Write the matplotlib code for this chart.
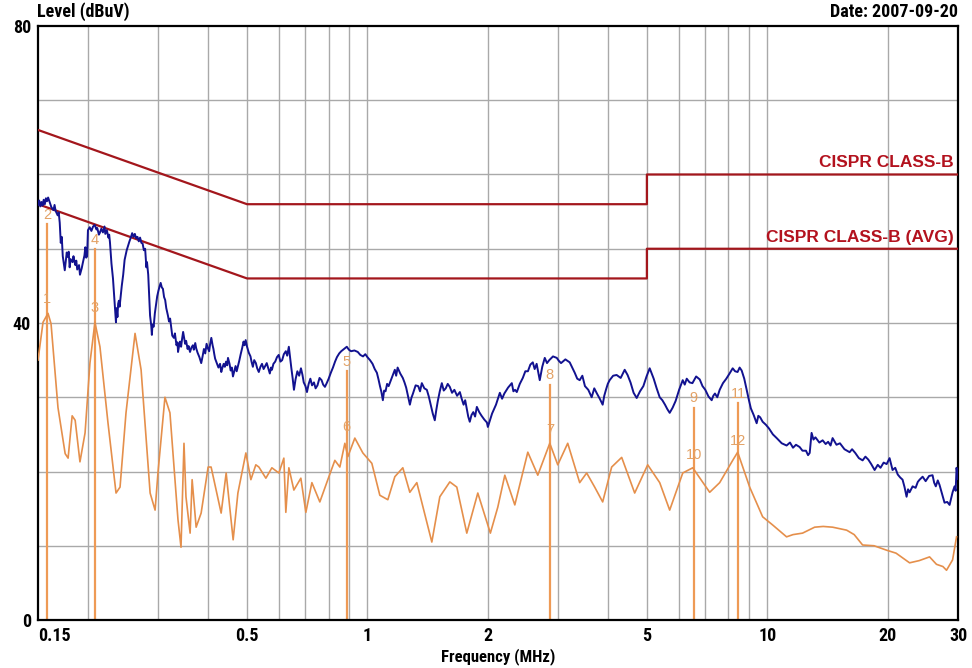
import matplotlib
matplotlib.use("Agg")
import matplotlib.pyplot as plt
from matplotlib import font_manager as fm

# ---------------- data ----------------
x_ticks = [0.15, 0.5, 1, 2, 5, 10, 20, 30]
x_tick_labels = ["0.15", "0.5", "1", "2", "5", "10", "20", "30"]
y_ticks = [0, 40, 80]
y_tick_labels = ["0", "40", "80"]

# CISPR 22 class B limits (dBuV)
limit_freq = [0.15, 0.5, 5, 5, 30]
limit_qp = [66, 56, 56, 60, 60]
limit_avg = [56, 46, 46, 50, 50]

# Peak scan: (MHz, dBuV)
peak_scan = [
    (0.150, 55.9), (0.151, 56.5), (0.152, 55.7), (0.153, 56.3), (0.154, 55.8),
    (0.155, 56.6), (0.156, 56.0), (0.157, 56.8), (0.158, 56.4), (0.159, 56.9),
    (0.161, 56.0), (0.162, 55.6), (0.164, 55.2), (0.165, 55.9), (0.166, 55.1),
    (0.168, 54.5), (0.169, 54.9), (0.170, 53.5), (0.171, 50.8), (0.172, 51.6),
    (0.173, 49.0), (0.174, 48.0), (0.175, 47.1), (0.176, 48.3), (0.177, 49.5),
    (0.178, 48.9), (0.179, 49.6), (0.180, 47.5), (0.181, 48.6), (0.183, 48.2),
    (0.184, 49.0), (0.185, 48.3), (0.186, 47.8), (0.187, 48.4), (0.188, 47.2),
    (0.190, 47.8), (0.191, 46.5), (0.193, 47.4), (0.194, 48.0), (0.196, 49.1),
    (0.197, 50.2), (0.198, 48.8), (0.199, 49.0), (0.200, 52.5), (0.202, 52.9),
    (0.204, 52.4), (0.206, 53.0), (0.208, 53.2), (0.210, 52.6), (0.211, 52.8),
    (0.213, 51.9), (0.214, 52.1), (0.216, 52.7), (0.218, 52.2), (0.220, 53.0),
    (0.221, 52.0), (0.223, 52.5), (0.225, 51.5), (0.226, 51.9), (0.227, 50.9),
    (0.229, 48.0), (0.231, 46.0), (0.232, 44.5), (0.234, 41.5), (0.235, 40.1),
    (0.236, 42.0), (0.237, 40.8), (0.238, 42.6), (0.239, 43.0), (0.240, 42.2),
    (0.241, 43.1), (0.243, 45.0), (0.245, 46.5), (0.247, 48.5), (0.250, 49.8),
    (0.252, 50.4), (0.254, 51.0), (0.256, 51.5), (0.258, 52.1), (0.260, 51.6),
    (0.262, 52.0), (0.264, 51.4), (0.266, 51.6), (0.268, 51.0), (0.270, 51.5),
    (0.272, 50.8), (0.274, 50.7), (0.276, 49.8), (0.278, 50.0), (0.280, 47.5),
    (0.281, 48.2), (0.283, 46.5), (0.285, 43.0), (0.286, 41.0), (0.288, 39.6),
    (0.289, 38.4), (0.290, 39.8), (0.292, 39.5), (0.294, 41.3), (0.296, 42.5),
    (0.298, 43.6), (0.300, 44.3), (0.302, 44.9), (0.304, 45.4), (0.306, 44.8),
    (0.308, 44.6), (0.310, 43.5), (0.312, 43.1), (0.314, 42.0), (0.317, 41.0),
    (0.319, 40.2), (0.321, 40.6), (0.323, 39.5), (0.325, 38.3), (0.328, 38.0),
    (0.330, 38.6), (0.333, 37.0), (0.335, 37.4), (0.336, 36.1), (0.338, 36.9),
    (0.340, 37.5), (0.342, 36.8), (0.344, 37.9), (0.346, 38.8), (0.348, 38.0),
    (0.350, 37.2), (0.352, 37.6), (0.355, 36.5), (0.357, 36.9), (0.360, 36.1),
    (0.363, 36.7), (0.366, 37.0), (0.368, 36.4), (0.371, 37.3), (0.373, 36.6),
    (0.376, 36.0), (0.380, 35.4), (0.384, 34.6), (0.387, 35.5), (0.390, 36.5),
    (0.393, 35.9), (0.396, 37.2), (0.399, 36.6), (0.402, 36.2), (0.404, 37.1),
    (0.407, 38.0), (0.410, 37.0), (0.412, 36.5), (0.414, 35.8), (0.416, 35.2),
    (0.420, 34.6), (0.424, 34.0), (0.428, 34.5), (0.431, 33.4), (0.434, 34.0),
    (0.437, 34.5), (0.440, 34.1), (0.443, 34.8), (0.446, 34.3), (0.448, 35.3),
    (0.452, 34.5), (0.455, 33.6), (0.458, 34.0), (0.461, 32.8), (0.465, 33.6),
    (0.468, 34.2), (0.471, 33.5), (0.474, 34.1), (0.478, 34.9), (0.482, 35.8),
    (0.486, 36.6), (0.490, 37.5), (0.493, 37.0), (0.496, 37.7), (0.500, 36.8),
    (0.505, 36.0), (0.510, 35.5), (0.513, 34.8), (0.517, 34.1), (0.521, 35.0),
    (0.526, 34.6), (0.530, 33.9), (0.535, 33.4), (0.540, 34.1), (0.545, 34.5),
    (0.550, 33.8), (0.555, 34.2), (0.560, 34.6), (0.565, 33.9), (0.570, 33.2),
    (0.574, 34.0), (0.577, 33.7), (0.582, 34.5), (0.588, 34.8), (0.594, 35.4),
    (0.600, 35.7), (0.606, 34.8), (0.612, 35.0), (0.618, 35.8), (0.625, 36.2),
    (0.630, 35.6), (0.636, 36.8), (0.640, 35.5), (0.645, 34.0), (0.650, 32.6),
    (0.655, 31.0), (0.661, 32.4), (0.668, 33.5), (0.675, 32.9), (0.682, 33.9),
    (0.688, 33.0), (0.693, 32.0), (0.700, 31.5), (0.706, 30.7), (0.713, 31.8),
    (0.720, 32.5), (0.727, 31.6), (0.735, 32.0), (0.742, 31.2), (0.750, 31.6),
    (0.759, 32.6), (0.768, 32.3), (0.775, 31.7), (0.783, 31.4), (0.791, 31.9),
    (0.800, 32.5), (0.810, 33.3), (0.820, 34.0), (0.830, 34.8), (0.839, 35.4),
    (0.850, 35.9), (0.860, 36.2), (0.874, 36.5), (0.888, 36.8), (0.899, 36.4),
    (0.910, 36.2), (0.928, 36.3), (0.946, 36.1), (0.960, 35.7), (0.975, 35.5),
    (0.988, 35.8), (1.000, 35.4), (1.015, 35.0), (1.030, 34.5), (1.043, 33.8),
    (1.056, 33.3), (1.066, 32.4), (1.075, 31.5), (1.084, 30.7), (1.093, 29.6),
    (1.101, 30.9), (1.110, 30.8), (1.120, 31.8), (1.130, 31.5), (1.150, 32.6),
    (1.171, 33.7), (1.180, 32.9), (1.190, 34.0), (1.208, 33.2), (1.226, 32.6),
    (1.238, 32.0), (1.250, 31.3), (1.263, 30.2), (1.277, 29.0), (1.288, 29.9),
    (1.300, 30.5), (1.320, 31.6), (1.340, 31.5), (1.354, 30.8), (1.368, 31.9),
    (1.388, 31.2), (1.408, 31.0), (1.424, 30.1), (1.440, 29.0), (1.457, 27.8),
    (1.474, 26.9), (1.487, 28.3), (1.500, 29.5), (1.517, 30.8), (1.535, 31.9),
    (1.552, 30.9), (1.570, 31.2), (1.588, 31.8), (1.607, 31.4), (1.628, 30.6),
    (1.650, 31.0), (1.676, 30.2), (1.703, 30.7), (1.721, 29.8), (1.740, 29.0),
    (1.756, 29.6), (1.772, 28.5), (1.787, 27.4), (1.803, 26.7), (1.821, 27.6),
    (1.840, 28.0), (1.859, 27.4), (1.878, 28.7), (1.904, 28.0), (1.930, 27.5),
    (1.960, 27.0), (1.990, 26.6), (2.001, 26.0), (2.025, 26.9), (2.050, 27.8),
    (2.097, 29.0), (2.144, 30.6), (2.172, 29.8), (2.200, 30.5), (2.248, 31.3),
    (2.297, 31.9), (2.318, 30.8), (2.340, 31.0), (2.364, 30.7), (2.405, 31.8),
    (2.447, 32.6), (2.483, 33.5), (2.520, 33.5), (2.556, 34.4), (2.592, 34.7),
    (2.620, 33.8), (2.650, 34.5), (2.674, 33.4), (2.698, 32.3), (2.737, 34.1),
    (2.777, 35.3), (2.813, 34.6), (2.850, 35.0), (2.912, 35.5), (2.976, 35.3),
    (3.012, 34.9), (3.050, 34.6), (3.127, 35.1), (3.206, 34.7), (3.252, 34.0),
    (3.300, 33.3), (3.348, 32.5), (3.396, 32.3), (3.448, 32.9), (3.500, 31.5),
    (3.568, 31.0), (3.638, 30.0), (3.693, 31.2), (3.750, 30.5), (3.812, 29.8),
    (3.876, 29.0), (3.912, 30.2), (3.950, 31.0), (3.992, 31.8), (4.035, 32.3),
    (4.117, 32.9), (4.200, 33.0), (4.300, 32.6), (4.400, 33.7), (4.474, 33.0),
    (4.550, 32.0), (4.632, 30.6), (4.715, 29.9), (4.806, 30.8), (4.900, 31.5),
    (4.990, 32.8), (5.082, 33.9), (5.140, 33.2), (5.200, 32.5), (5.290, 31.2),
    (5.383, 30.0), (5.466, 29.6), (5.550, 29.0), (5.625, 28.4), (5.702, 27.9),
    (5.800, 28.6), (5.900, 29.5), (6.020, 31.0), (6.147, 32.3), (6.218, 31.7),
    (6.290, 32.5), (6.394, 32.0), (6.500, 31.9), (6.640, 32.8), (6.779, 32.4),
    (6.888, 31.5), (7.000, 31.0), (7.130, 30.1), (7.262, 29.6), (7.330, 30.2),
    (7.400, 30.5), (7.500, 30.0), (7.604, 31.0), (7.750, 31.9), (7.900, 32.5),
    (8.050, 33.2), (8.196, 33.9), (8.310, 33.5), (8.430, 33.4), (8.530, 34.0),
    (8.631, 33.6), (8.760, 32.5), (8.883, 31.0), (9.000, 29.6), (9.100, 28.5),
    (9.250, 27.6), (9.409, 26.5), (9.500, 27.5), (9.600, 27.3), (9.739, 26.7),
    (9.920, 26.3), (10.10, 25.8), (10.33, 25.0), (10.56, 24.5), (10.87, 23.8),
    (11.18, 23.5), (11.40, 23.9), (11.60, 23.2), (11.80, 23.6), (12.05, 23.3),
    (12.25, 22.8), (12.50, 22.8), (12.65, 22.2), (12.77, 22.5), (12.91, 25.2),
    (13.05, 24.3), (13.20, 24.6), (13.50, 23.9), (13.76, 24.2), (14.00, 23.7),
    (14.20, 24.0), (14.40, 23.5), (14.57, 24.5), (14.90, 23.6), (15.20, 23.8),
    (15.60, 23.0), (16.07, 22.6), (16.30, 23.0), (16.60, 22.5), (16.95, 21.8),
    (17.32, 21.5), (17.60, 22.0), (17.90, 21.6), (18.20, 21.0), (18.56, 20.2),
    (18.90, 20.9), (19.20, 20.5), (19.55, 21.2), (19.89, 21.0), (20.23, 21.8),
    (20.58, 20.2), (20.90, 20.5), (21.20, 19.6), (21.50, 19.2), (21.80, 18.9),
    (22.05, 17.9), (22.31, 16.6), (22.50, 17.6), (22.70, 17.2), (23.10, 18.0),
    (23.50, 17.8), (23.80, 18.6), (24.05, 18.9), (24.47, 19.3), (24.90, 18.7),
    (25.40, 19.4), (25.91, 19.5), (26.15, 18.5), (26.40, 18.0), (26.70, 18.8),
    (26.97, 18.2), (27.40, 16.9), (27.76, 15.8), (28.20, 15.9), (28.58, 15.5),
    (28.85, 16.4), (29.08, 17.2), (29.41, 18.0), (29.60, 17.4), (29.75, 20.5),
    (30.00, 19.0),
]

# Average scan: (MHz, dBuV)
avg_scan = [
    (0.150, 35.0), (0.1544, 40.1), (0.1589, 41.3), (0.1617, 39.9), (0.1683, 28.6),
    (0.1754, 22.4), (0.1784, 21.8), (0.1826, 27.5), (0.1858, 26.9), (0.1910, 21.3),
    (0.1967, 25.2), (0.2023, 34.6), (0.2082, 40.1), (0.2143, 36.8), (0.2244, 26.6),
    (0.2351, 17.1), (0.2406, 17.9), (0.2490, 27.9), (0.2623, 38.6), (0.2716, 33.7),
    (0.2861, 17.1), (0.2944, 14.8), (0.2993, 19.8), (0.3116, 30.0), (0.3207, 27.9),
    (0.3359, 13.5), (0.3418, 9.8), (0.3477, 23.8), (0.3517, 16.6), (0.3602, 11.7),
    (0.3644, 18.9), (0.3729, 12.5), (0.3838, 14.4), (0.3996, 20.6), (0.4065, 20.6),
    (0.4307, 14.4), (0.4433, 19.8), (0.4615, 10.8), (0.4743, 17.1), (0.4966, 22.5),
    (0.5111, 18.9), (0.5259, 20.9), (0.5352, 20.6), (0.5572, 19.1), (0.5768, 20.5),
    (0.6005, 19.8), (0.6180, 21.8), (0.6251, 14.5), (0.6361, 20.5), (0.6547, 17.5),
    (0.6816, 19.1), (0.7015, 14.5), (0.7263, 18.5), (0.7603, 15.9), (0.7961, 18.9),
    (0.8290, 21.5), (0.8532, 20.6), (0.8781, 23.8), (0.8934, 22.0), (0.9301, 24.5),
    (0.9740, 22.5), (1.0258, 21.1), (1.0741, 16.8), (1.1247, 16.2), (1.1710, 19.3),
    (1.2262, 20.5), (1.2766, 17.2), (1.3291, 18.5), (1.4491, 10.5), (1.5174, 16.6),
    (1.6072, 18.6), (1.6732, 17.9), (1.7724, 11.7), (1.8884, 17.1), (2.030, 11.7),
    (2.1189, 15.2), (2.2062, 19.5), (2.3369, 15.5), (2.5185, 22.6), (2.6675, 19.5),
    (2.8582, 23.8), (2.9929, 20.9), (3.1695, 23.8), (3.3955, 18.5), (3.5351, 19.8),
    (3.7018, 17.9), (3.8763, 15.9), (4.0820, 20.6), (4.3248, 21.9), (4.6609, 17.1),
    (5.0236, 20.9), (5.3833, 18.5), (5.7017, 14.8), (6.1472, 19.8), (6.5114, 20.5),
    (7.1790, 17.2), (7.6045, 18.5), (8.1964, 21.5), (8.4347, 22.6), (9.0377, 17.9),
    (9.7388, 13.9), (10.316, 12.8), (11.177, 11.2), (11.60, 11.5), (12.256, 11.7),
    (12.80, 12.2), (13.139, 12.5), (13.80, 12.6), (14.573, 12.5), (15.797, 12.1),
    (16.50, 11.5), (17.32, 10.1), (18.50, 10.0), (19.89, 9.4), (21.00, 9.0),
    (22.70, 7.7), (24.00, 8.0), (25.47, 8.5), (26.50, 7.5), (27.50, 7.2),
    (28.08, 6.7), (29.08, 8.1), (29.75, 11.2),
]

# Marker readings: frequency, peak reading, average reading
marker_freq = [0.158, 0.208, 0.888, 2.86, 6.55, 8.46]
marker_peak = [56.6, 53.2, 36.8, 35.0, 31.9, 32.5]
marker_avg = [41.3, 40.1, 24.0, 23.6, 20.2, 22.2]
marker_peak_labels = ["2", "4", "5", "8", "9", "11"]
marker_avg_labels = ["1", "3", "6", "7", "10", "12"]

peak_freq, peak_level = zip(*peak_scan)
avg_freq, avg_level = zip(*avg_scan)

# ---------------- fonts ----------------
available = {f.name for f in fm.fontManager.ttflist}


def pick(names):
    for n in names:
        if n in available:
            return n
    return "DejaVu Sans"


narrow = pick(["Liberation Sans Narrow", "Roboto Condensed", "Liberation Sans"])
wide = pick(["Liberation Sans", "Arial", "DejaVu Sans"])

# ---------------- figure ----------------
W, H = 972, 668
fig = plt.figure(figsize=(W / 100, H / 100), dpi=100)
ax = fig.add_axes([38 / W, (H - 620) / H, 920 / W, 594 / H])
ax.set_xscale("log")
ax.set_xlim(0.15, 30)
ax.set_ylim(0, 80)

grid_c = "#a9a9a9"
grid_x = [m * 10 ** e for e in (-1, 0, 1) for m in range(1, 10)]
grid_x = [g for g in grid_x if 0.15 < g < 30]
ax.set_xticks(grid_x, minor=True)
ax.set_yticks(range(10, 80, 10), minor=True)
ax.set_xticks(x_ticks)
ax.set_xticklabels(x_tick_labels)
ax.set_yticks(y_ticks)
ax.set_yticklabels(y_tick_labels)
for xv in grid_x:
    ax.axvline(xv, color=grid_c, lw=1.0, zorder=0)
for yv in range(10, 80, 10):
    ax.axhline(yv, color=grid_c, lw=1.0, zorder=0)

ax.tick_params(which="both", length=0)
ax.tick_params(axis="x", pad=5)
ax.tick_params(axis="y", pad=5)
for lab in ax.get_xticklabels() + ax.get_yticklabels():
    lab.set_fontfamily(narrow)
    lab.set_fontweight("bold")
    lab.set_fontsize(13)
ax.get_xticklabels()[0].set_horizontalalignment("left")

for sp in ax.spines.values():
    sp.set_color("black")
    sp.set_linewidth(1.6)

# limit lines
red = "#a3161c"
ax.plot(limit_freq, limit_qp, color=red, lw=1.6, zorder=3)
ax.plot(limit_freq, limit_avg, color=red, lw=1.6, zorder=3)
lab_kw = dict(color="#b3121e", fontsize=12.5, fontweight="bold", family=wide,
              ha="right", va="bottom", textcoords="offset points")
ax.annotate("CISPR CLASS-B", (29.3, limit_qp[-1]), xytext=(0, 3), **lab_kw)
ax.annotate("CISPR CLASS-B (AVG)", (29.3, limit_avg[-1]), xytext=(0, 3), **lab_kw)

# markers
mk_c = "#ee9a55"
for f, pk, av, lp, la in zip(marker_freq, marker_peak, marker_avg,
                             marker_peak_labels, marker_avg_labels):
    ax.plot([f, f], [0, pk - 3.3], color=mk_c, lw=1.6, zorder=2)
    ax.annotate(lp, (f, pk), xytext=(0, -11), textcoords="offset points",
                ha="center", va="center", color="#e3a266", fontsize=10.5, family=wide)
    ax.annotate(la, (f, av), xytext=(0, 10.5), textcoords="offset points",
                ha="center", va="center", color="#e3a266", fontsize=10.5, family=wide)

# traces
ax.plot(avg_freq, avg_level, color="#e58f4b", lw=1.2, zorder=4)
ax.plot(peak_freq, peak_level, color="#121290", lw=1.4, zorder=5)

ax.set_xlabel("Frequency (MHz)", fontsize=12, fontweight="bold", family=narrow, labelpad=2)

fig.text(37 / W, 1 - 12 / H, "Level (dBuV)", fontsize=13, fontweight="bold",
         family=narrow, ha="left", va="center")
fig.text(958 / W, 1 - 12 / H, "Date: 2007-09-20", fontsize=13, fontweight="bold",
         family=narrow, ha="right", va="center")

fig.savefig("out.png", dpi=100)
